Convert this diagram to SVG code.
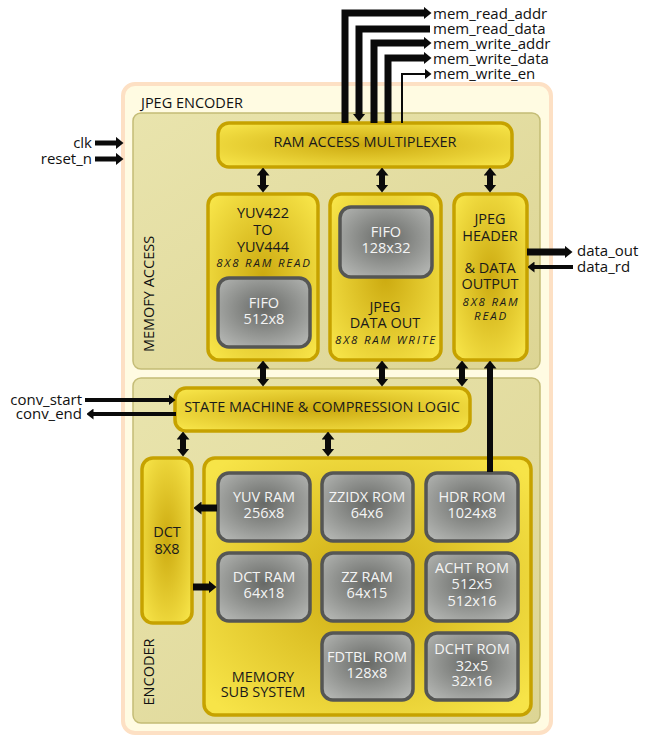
<svg xmlns="http://www.w3.org/2000/svg" width="650" height="735" viewBox="0 0 650 735">
<defs>
<radialGradient id="yel" cx="50%" cy="50%" r="65%"><stop offset="0" stop-color="#ccaa10"/><stop offset="1" stop-color="#f7e448"/></radialGradient>
<radialGradient id="gry" cx="50%" cy="45%" r="65%"><stop offset="0" stop-color="#676966"/><stop offset="1" stop-color="#b2b4b1"/></radialGradient>
<linearGradient id="kha" x1="0" y1="0" x2="1" y2="1"><stop offset="0" stop-color="#e9e4ad"/><stop offset="1" stop-color="#ddd594"/></linearGradient>
<marker id="h" viewBox="0 0 8 13" refX="0.5" refY="6.5" markerWidth="8" markerHeight="13" markerUnits="userSpaceOnUse" orient="auto-start-reverse"><path d="M0,0 L8,6.5 L0,13z" fill="#0a0a0a"/></marker>
<marker id="hs" viewBox="0 0 7 11" refX="0.5" refY="5.5" markerWidth="7" markerHeight="11" markerUnits="userSpaceOnUse" orient="auto-start-reverse"><path d="M0,0 L7,5.5 L0,11z" fill="#0a0a0a"/></marker>
</defs>
<style>
text{font-family:"Open Sans","Noto Sans","DejaVu Sans",sans-serif;}
.lbl{font-size:15px;fill:#111;}
.sl{font-size:14.5px;fill:#111;}
.yb{fill:url(#yel);stroke:#c6a200;stroke-width:3.5;}
.gb{fill:url(#gry);stroke:#555654;stroke-width:3.5;}
.sec{fill:url(#kha);stroke:#c4bc76;stroke-width:1.5;}
.t{font-size:14.5px;fill:#1a1a1a;text-anchor:middle;}
.ti{font-size:11.5px;font-style:italic;letter-spacing:1.8px;}
.tw{font-size:14.5px;fill:#f4f4f4;text-anchor:middle;}
.w{fill:none;stroke:#0a0a0a;stroke-linejoin:miter;}
</style>
<g id="jpeg-encoder">
<rect x="123" y="84" width="428" height="649" rx="12" fill="#fffbe2" stroke="#fde0c4" stroke-width="4"/>
<text class="sl" x="141" y="108">JPEG ENCODER</text>
</g>
<g id="memory-access">
<rect class="sec" x="133" y="113" width="407" height="256" rx="8"/>
<text class="sl" transform="translate(154,294) rotate(-90)" text-anchor="middle">MEMOFY ACCESS</text>
</g>
<g id="encoder">
<rect class="sec" x="133" y="378" width="407" height="345" rx="8"/>
<text class="sl" transform="translate(154,672) rotate(-90)" text-anchor="middle">ENCODER</text>
</g>
<g id="ram-mux">
<rect class="yb" x="218" y="123" width="294" height="44" rx="11"/>
<text class="t" x="365" y="147">RAM ACCESS MULTIPLEXER</text>
</g>
<g id="yuv422">
<rect class="yb" x="208" y="194" width="110" height="166" rx="11"/>
<text class="t" x="263" y="218">YUV422<tspan x="263" dy="17">TO</tspan><tspan x="263" dy="17">YUV444</tspan><tspan class="ti" x="264" dy="15">8X8 RAM READ</tspan></text>
</g>
<g id="fifo-512x8">
<rect class="gb" x="218" y="278" width="92" height="69" rx="11"/>
<text class="tw" x="264" y="308">FIFO<tspan x="264" dy="16">512x8</tspan></text>
</g>
<g id="jpeg-data-out">
<rect class="yb" x="330" y="194" width="111" height="166" rx="11"/>
<text class="t" x="385" y="312">JPEG<tspan x="385" dy="16">DATA OUT</tspan><tspan class="ti" x="386" dy="16">8X8 RAM WRITE</tspan></text>
</g>
<g id="fifo-128x32">
<rect class="gb" x="340" y="207" width="92" height="70" rx="11"/>
<text class="tw" x="386" y="237">FIFO<tspan x="386" dy="16">128x32</tspan></text>
</g>
<g id="jpeg-header">
<rect class="yb" x="454" y="194" width="73" height="166" rx="11"/>
<text class="t" x="490" y="224">JPEG<tspan x="490" dy="17">HEADER</tspan><tspan x="490" dy="32">&amp; DATA</tspan><tspan x="490" dy="16">OUTPUT</tspan><tspan class="ti" x="491" dy="17">8X8 RAM</tspan><tspan class="ti" x="491" dy="14">READ</tspan></text>
</g>
<g id="state-machine">
<rect class="yb" x="175" y="388" width="295" height="43" rx="11"/>
<text class="t" x="322" y="412">STATE MACHINE &amp; COMPRESSION LOGIC</text>
</g>
<g id="dct">
<rect class="yb" x="142" y="458" width="50" height="165" rx="11"/>
<text class="t" x="167" y="537">DCT<tspan x="167" dy="17">8X8</tspan></text>
</g>
<g id="memory-sub-system">
<rect class="yb" x="204" y="458" width="327" height="257" rx="11"/>
<text class="t" x="263" y="682">MEMORY<tspan x="263" dy="15">SUB SYSTEM</tspan></text>
</g>
<g id="yuv-ram"><rect class="gb" x="218" y="473" width="92" height="68" rx="11"/><text class="tw" x="264" y="502">YUV RAM<tspan x="264" dy="16">256x8</tspan></text></g>
<g id="zzidx-rom"><rect class="gb" x="322" y="473" width="91" height="68" rx="11"/><text class="tw" x="367" y="502">ZZIDX ROM<tspan x="367" dy="16">64x6</tspan></text></g>
<g id="hdr-rom"><rect class="gb" x="426" y="473" width="92" height="68" rx="11"/><text class="tw" x="472" y="502">HDR ROM<tspan x="472" dy="16">1024x8</tspan></text></g>
<g id="dct-ram"><rect class="gb" x="218" y="553" width="92" height="68" rx="11"/><text class="tw" x="264" y="582">DCT RAM<tspan x="264" dy="16">64x18</tspan></text></g>
<g id="zz-ram"><rect class="gb" x="322" y="553" width="91" height="68" rx="11"/><text class="tw" x="367" y="582">ZZ RAM<tspan x="367" dy="16">64x15</tspan></text></g>
<g id="acht-rom"><rect class="gb" x="426" y="553" width="92" height="68" rx="11"/><text class="tw" x="472" y="573">ACHT ROM<tspan x="472" dy="16">512x5</tspan><tspan x="472" dy="17">512x16</tspan></text></g>
<g id="fdtbl-rom"><rect class="gb" x="322" y="633" width="91" height="67" rx="11"/><text class="tw" x="367" y="662">FDTBL ROM<tspan x="367" dy="16">128x8</tspan></text></g>
<g id="dcht-rom"><rect class="gb" x="426" y="633" width="92" height="67" rx="11"/><text class="tw" x="472" y="654">DCHT ROM<tspan x="472" dy="17">32x5</tspan><tspan x="472" dy="15">32x16</tspan></text></g>
<g id="signal-labels">
<text class="lbl" x="433" y="19">mem_read_addr</text>
<text class="lbl" x="433" y="34">mem_read_data</text>
<text class="lbl" x="433" y="49">mem_write_addr</text>
<text class="lbl" x="433" y="64">mem_write_data</text>
<text class="lbl" x="433" y="79">mem_write_en</text>
<text class="lbl" x="92" y="148" text-anchor="end">clk</text>
<text class="lbl" x="92" y="164" text-anchor="end">reset_n</text>
<text class="lbl" x="82" y="405" text-anchor="end">conv_start</text>
<text class="lbl" x="82" y="419" text-anchor="end">conv_end</text>
<text class="lbl" x="577" y="256">data_out</text>
<text class="lbl" x="577" y="272">data_rd</text>
</g>
<g id="connectors">
<path class="w" stroke-width="7" d="M345,123 V13 H424" marker-end="url(#h)"/>
<path class="w" stroke-width="7" d="M430,29 H359 V114" marker-end="url(#h)"/>
<path class="w" stroke-width="7" d="M374,123 V43 H424" marker-end="url(#h)"/>
<path class="w" stroke-width="7" d="M388,123 V58 H424" marker-end="url(#h)"/>
<path class="w" stroke-width="2" d="M402,123 V74 H425" marker-end="url(#hs)"/>
<path class="w" stroke-width="5" d="M95,143 H116" marker-end="url(#h)"/>
<path class="w" stroke-width="5" d="M95,159 H116" marker-end="url(#h)"/>
<path class="w" stroke-width="4" d="M85,400 H169" marker-end="url(#hs)"/>
<path class="w" stroke-width="4" d="M176,414 H93" marker-end="url(#hs)"/>
<path class="w" stroke-width="7" d="M527,252 H565" marker-end="url(#h)"/>
<path class="w" stroke-width="4" d="M573,267 H534" marker-end="url(#hs)"/>
<path class="w" stroke-width="6" d="M263,175 V185" marker-start="url(#h)" marker-end="url(#h)"/>
<path class="w" stroke-width="6" d="M382,175 V185" marker-start="url(#h)" marker-end="url(#h)"/>
<path class="w" stroke-width="6" d="M490,175 V185" marker-start="url(#h)" marker-end="url(#h)"/>
<path class="w" stroke-width="6" d="M263,368 V379" marker-start="url(#h)" marker-end="url(#h)"/>
<path class="w" stroke-width="6" d="M382,368 V379" marker-start="url(#h)" marker-end="url(#h)"/>
<path class="w" stroke-width="6" d="M462,368 V379" marker-start="url(#h)" marker-end="url(#h)"/>
<path class="w" stroke-width="6" d="M490,472 V368" marker-end="url(#h)"/>
<path class="w" stroke-width="6" d="M183,439 V449" marker-start="url(#h)" marker-end="url(#h)"/>
<path class="w" stroke-width="6" d="M328,439 V449" marker-start="url(#h)" marker-end="url(#h)"/>
<path class="w" stroke-width="7" d="M217,508 H201" marker-end="url(#h)"/>
<path class="w" stroke-width="7" d="M193,587 H209" marker-end="url(#h)"/>
</g>
</svg>
